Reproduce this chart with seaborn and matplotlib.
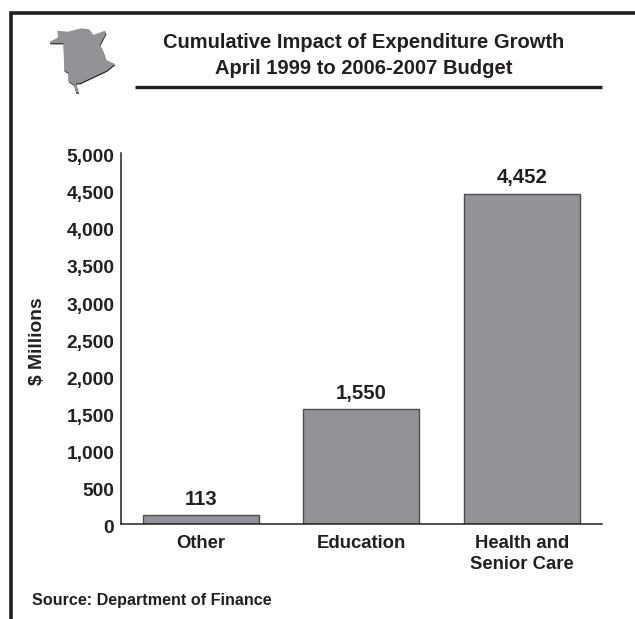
import matplotlib
matplotlib.use("Agg")
import matplotlib.pyplot as plt
from matplotlib.lines import Line2D
from matplotlib.patches import Polygon
from matplotlib.transforms import ScaledTranslation
import pandas as pd
import seaborn as sns

categories = ["Other", "Education", "Health and\nSenior Care"]
expenditure = [113, 1550, 4452]
value_labels = ["113", "1,550", "4,452"]
y_ticks = [0, 500, 1000, 1500, 2000, 2500, 3000, 3500, 4000, 4500, 5000]
y_tick_labels = ["0", "500", "1,000", "1,500", "2,000", "2,500", "3,000",
                 "3,500", "4,000", "4,500", "5,000"]
title_lines = "Cumulative Impact of Expenditure Growth\nApril 1999 to 2006-2007 Budget"

# Outline of New Brunswick, in figure pixels from the top-left corner
province_outline = [
    (57.3, 30.7), (67.7, 31.7), (81.7, 28.3), (89.3, 29.3), (93.3, 35), (105, 30.7),
    (106, 33.3), (100, 45), (103.3, 51.7), (106, 60), (115, 64), (106.7, 70.7),
    (80, 83.3), (76, 83.3), (77.3, 88.3), (78.7, 92.7), (76, 92.7), (74, 85),
    (68.3, 81), (68.3, 72.7), (64.3, 70.7), (63.3, 43.3), (50, 43.3), (50, 41.7),
    (58.3, 37.3),
]

INK = "#231f20"
GREY = "#929397"
W, H = 635, 619


def to_fig(points, dx=0.0, dy=0.0):
    return [((x + dx) / W, 1 - (y + dy) / H) for x, y in points]


sns.set_theme(style="white")
plt.rcParams["font.family"] = ["Liberation Sans", "DejaVu Sans"]
plt.rcParams["font.weight"] = "bold"

fig = plt.figure(figsize=(W / 100, H / 100), dpi=100, facecolor="white")
ax = fig.add_axes([120.5 / W, 1 - 523.7 / H, (602 - 120.5) / W, (523.7 - 153) / H])

table = pd.DataFrame({"category": categories, "value": expenditure})
sns.barplot(data=table, x="category", y="value", color=GREY, saturation=1,
            width=0.72, edgecolor="#4d4d4f", linewidth=1.0, errorbar=None, ax=ax)

ax.set_xlim(-0.5, 2.5)
ax.set_ylim(0, 5000)
ax.set_yticks(y_ticks)
ax.set_yticklabels(y_tick_labels)
ax.tick_params(axis="both", length=0, labelcolor=INK)
ax.tick_params(axis="x", pad=8, labelsize=13.3)
ax.tick_params(axis="y", pad=4.5, labelsize=13.8)
ax.set_xlabel("")
ax.set_ylabel("")
for tick_label in ax.get_xticklabels():
    tick_label.set_linespacing(1.3)
# Numbers on the value axis sit slightly under their nominal height
nudge = ScaledTranslation(0, -2 / 72, fig.dpi_scale_trans)
for tick_label in ax.get_yticklabels():
    tick_label.set_transform(tick_label.get_transform() + nudge)
for side in ("top", "right"):
    ax.spines[side].set_visible(False)
for side in ("left", "bottom"):
    ax.spines[side].set_color(INK)
    ax.spines[side].set_linewidth(1.1)

for bar, text in zip(ax.patches, value_labels):
    ax.annotate(text, (bar.get_x() + bar.get_width() / 2, bar.get_height()),
                xytext=(0, 4.5), textcoords="offset points", ha="center", va="bottom",
                fontsize=14.6, fontweight="bold", color=INK)

# Page furniture: border, heading, axis caption and source
fig.add_artist(Line2D([10.5 / W, 10.5 / W, 1], [0, 1 - 13 / H, 1 - 13 / H],
                      color=INK, lw=2.6, solid_joinstyle="miter"))
fig.add_artist(Line2D([135 / W, 602 / W], [1 - 86.5 / H] * 2, color=INK, lw=2.4,
                      solid_capstyle="butt"))
fig.text(363.5 / W, 1 - 55.5 / H, title_lines, ha="center", va="center",
         fontsize=14.5, fontweight="bold", color=INK, linespacing=1.43)
fig.text(37 / W, 1 - 341 / H, "\\$ Millions", rotation=90, ha="center", va="center",
         fontsize=13.9, fontweight="bold", color=INK)
fig.text(32 / W, 1 - 601 / H, "Source: Department of Finance", ha="left", va="center",
         fontsize=11.6, fontweight="bold", color=INK)

# Province emblem with a small drop shadow
fig.add_artist(Polygon(to_fig(province_outline, 0.4, 1.1), closed=True,
                       transform=fig.transFigure, facecolor=INK, edgecolor="none"))
fig.add_artist(Polygon(to_fig(province_outline), closed=True,
                       transform=fig.transFigure, facecolor=GREY, edgecolor="none"))

fig.savefig("out.png", dpi=100)
